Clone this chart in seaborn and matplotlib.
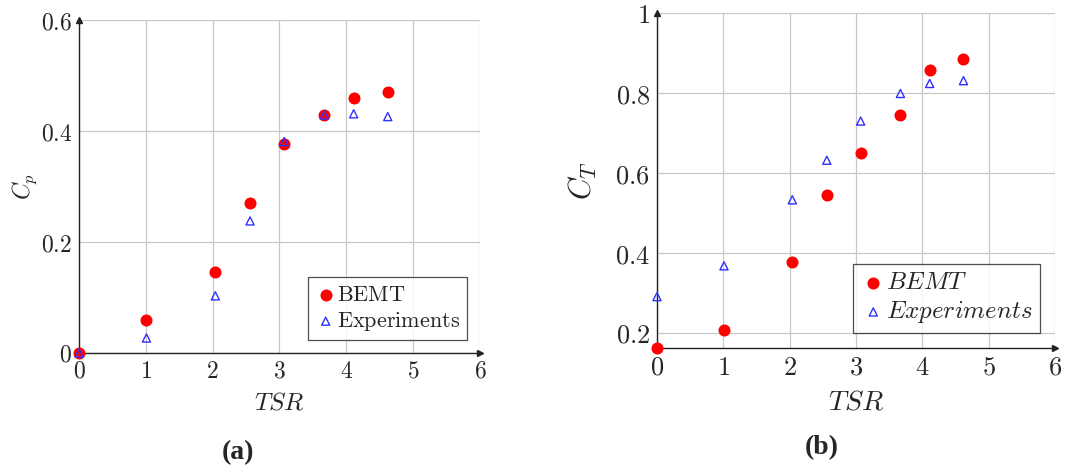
import numpy as np
import pandas as pd
import matplotlib
matplotlib.use("Agg")
import matplotlib.pyplot as plt
import seaborn as sns

# ---- data ----
tsr = [0.0, 1.01, 2.04, 2.56, 3.07, 3.67, 4.11, 4.62]
cp_bemt = [0.0, 0.059, 0.146, 0.271, 0.377, 0.429, 0.460, 0.470]
cp_exp = [0.0, 0.027, 0.103, 0.238, 0.381, 0.429, 0.431, 0.426]
ct_bemt = [0.163, 0.208, 0.377, 0.545, 0.651, 0.744, 0.857, 0.886]
ct_exp = [0.291, 0.368, 0.533, 0.632, 0.730, 0.799, 0.824, 0.831]
x_ticks = [0, 1, 2, 3, 4, 5, 6]
cp_ticks = [0, 0.2, 0.4, 0.6]
ct_ticks = [0.2, 0.4, 0.6, 0.8, 1.0]

sns.set_style("white")
plt.rcParams["mathtext.fontset"] = "cm"
plt.rcParams["font.family"] = ["DejaVu Serif"]

fig = plt.figure(figsize=(10.7, 4.73), dpi=100)
ax1 = fig.add_axes([0.0738, 0.2537, 0.3748, 0.704])
ax2 = fig.add_axes([0.614, 0.2643, 0.372, 0.708])


def fmt(v):
    if v == 0:
        return "$0$"
    if float(v).is_integer():
        return "$%d$" % int(v)
    return "$%g$" % v


def style_axes(ax, ylim, yticks, fs):
    ax.set_xlim(0, 6)
    ax.set_ylim(*ylim)
    ax.set_xticks(x_ticks)
    ax.set_xticklabels([fmt(t) for t in x_ticks], fontsize=fs)
    ax.set_yticks(yticks)
    ax.set_yticklabels([fmt(t) for t in yticks], fontsize=fs)
    ax.grid(True, color="#c8c8c8", linewidth=0.9)
    ax.set_axisbelow(True)
    for s in ["top", "right"]:
        ax.spines[s].set_visible(False)
    for s in ["left", "bottom"]:
        ax.spines[s].set_color("#222222")
        ax.spines[s].set_linewidth(1.0)
    ax.tick_params(length=0, pad=5)
    ax.plot(1, 0, ">", color="#222222", ms=4, transform=ax.transAxes, clip_on=False)
    ax.plot(0, 1, "^", color="#222222", ms=4, transform=ax.transAxes, clip_on=False)


def draw(ax, yb, ye, lab_b, lab_e, fs):
    sns.scatterplot(x=tsr, y=yb, ax=ax, color="#ff0000", marker="o", s=75,
                    edgecolor="#ff0000", linewidth=0, label=lab_b, zorder=3,
                    clip_on=False)
    sns.scatterplot(x=tsr, y=ye, ax=ax, marker="^", s=34, facecolor="none",
                    edgecolor="#3030ff", linewidth=1.0, label=lab_e, zorder=4,
                    clip_on=False)
    leg = ax.legend(loc="lower right", fontsize=fs, frameon=True, fancybox=False,
                    edgecolor="#222222", handletextpad=0.0, borderpad=0.3,
                    labelspacing=0.2, handlelength=1.0, borderaxespad=0.6)
    leg.get_frame().set_linewidth(0.9)
    return leg


draw(ax1, cp_bemt, cp_exp, r"$\mathrm{BEMT}$", r"$\mathrm{Experiments}$", 16)
style_axes(ax1, (0, 0.6), cp_ticks, 17)
ax1.set_xlabel("$TSR$", fontsize=18, labelpad=6)
ax1.set_ylabel("$C_p$", fontsize=17)
ax1.yaxis.set_label_coords(-0.10, 0.5)

draw(ax2, ct_bemt, ct_exp, "$BEMT$", "$Experiments$", 18)
style_axes(ax2, (0.1625, 1.0), ct_ticks, 19)
ax2.set_xlabel("$TSR$", fontsize=20, labelpad=6)
ax2.set_ylabel("$C_T$", fontsize=22)
ax2.yaxis.set_label_coords(-0.145, 0.5)

fig.text(0.2225, 0.03, "(a)", fontsize=20, fontweight="bold",
         fontfamily="Liberation Serif", ha="center")
fig.text(0.768, 0.04, "(b)", fontsize=20, fontweight="bold",
         fontfamily="Liberation Serif", ha="center")

fig.savefig("out.png", dpi=100)
